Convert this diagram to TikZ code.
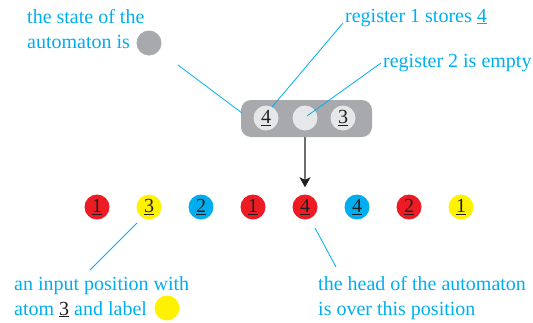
\documentclass[tikz,border=0pt]{standalone}
\usepackage{fontspec}
\setmainfont{Liberation Serif}
\usetikzlibrary{arrows.meta}
\definecolor{cy}{HTML}{00AEEF}
\definecolor{rd}{HTML}{ED1C24}
\definecolor{yl}{HTML}{FFF200}
\definecolor{gr}{HTML}{A7A9AC}
\definecolor{lg}{HTML}{E6E7E8}
\definecolor{dk}{HTML}{231F20}
\definecolor{ar}{HTML}{6D6E71}
\begin{document}
\begin{tikzpicture}[x=1pt,y=-1pt,
  lbl/.style={text=cy,font=\fontsize{20}{25}\selectfont,inner sep=0pt,anchor=base west},
  atomdot/.style={circle,minimum size=25pt,inner sep=0pt,text=dk,font=\fontsize{20}{20}\selectfont},
  callout/.style={draw=cy,line width=0.8pt}]
\useasboundingbox (0,0) rectangle (533,322);
% top-left label
\node[lbl] (t1a) at (27,23) {the state of the};
\node[lbl] (t1b) at (27,48) {automaton is};
\node[circle,fill=gr,minimum size=25pt,inner sep=0pt] (stc) at (149,43) {};
% register labels
\node[lbl] (t2) at (345,22) {register 1 stores \underline{4}};
\node[lbl] (t3) at (383,67) {register 2 is empty};
% state box
\node[fill=gr,rounded corners=10pt,minimum width=131pt,minimum height=37pt,inner sep=0pt] (box) at (306.5,118.5) {};
\node[atomdot,fill=lg] (r1) at (266,118) {\underline{4}};
\node[atomdot,fill=lg] (r2) at (305,118) {};
\node[atomdot,fill=lg] (r3) at (343,118) {\underline{3}};
% input word
\node[atomdot,fill=rd] (p1) at (97,207) {\underline{1}};
\node[atomdot,fill=yl] (p2) at (149,207) {\underline{3}};
\node[atomdot,fill=cy] (p3) at (201,207) {\underline{2}};
\node[atomdot,fill=rd] (p4) at (253,207) {\underline{1}};
\node[atomdot,fill=rd] (p5) at (305,207) {\underline{4}};
\node[atomdot,fill=cy] (p6) at (357,207) {\underline{4}};
\node[atomdot,fill=rd] (p7) at (409,207) {\underline{2}};
\node[atomdot,fill=yl] (p8) at (461,207) {\underline{1}};
% head arrow
\draw[draw=ar,line width=1.2pt,-{Stealth[length=10pt,width=11pt,inset=2.5pt,color=dk]},shorten >=7pt] (box.south -| p5) -- (p5.north);
% bottom labels
\node[lbl] (t4a) at (14,290) {an input position with};
\node[lbl] (t4b) at (14,315) {atom {\color{dk}\underline{3}} and label};
\node[circle,fill=yl,minimum size=25pt,inner sep=0pt] (ylc) at (167,308) {};
\node[lbl] (t5a) at (318,290) {the head of the automaton};
\node[lbl] (t5b) at (318,315) {is over this position};
% callout lines
\coordinate (a1) at (178,65);  \coordinate (a2) at (242,113);
\coordinate (b1) at (343,23);  \coordinate (b2) at (272,107);
\coordinate (c1) at (381,63);  \coordinate (c2) at (307,116);
\coordinate (d1) at (137,223); \coordinate (d2) at (90,270);
\coordinate (e1) at (315,228); \coordinate (e2) at (336,267);
\draw[callout] (a1) -- (a2);
\draw[callout] (b1) -- (b2);
\draw[callout] (c1) -- (c2);
\draw[callout] (d1) -- (d2);
\draw[callout] (e1) -- (e2);
\end{tikzpicture}
\end{document}
